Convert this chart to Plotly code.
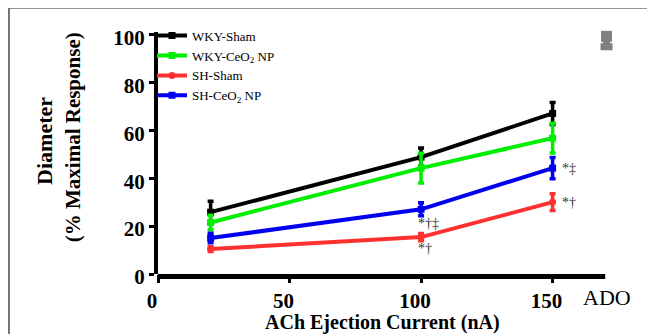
import plotly.graph_objects as go

x_current = [20, 100, 150]
series_names = ["WKY-Sham", "WKY-CeO<sub>2</sub> NP", "SH-Sham", "SH-CeO<sub>2</sub> NP"]
series_colors = ["#000000", "#00ee00", "#ff3030", "#0000ee"]
wky_sham = [25.8, 48.8, 67]
wky_sham_err = [4.6, 3.8, 4.6]
wky_ceo2 = [21.5, 44.2, 56.7]
wky_ceo2_err = [3, 6.2, 6.2]
sh_sham = [10.4, 15.4, 30]
sh_sham_err = [1, 1.5, 3.5]
sh_ceo2 = [15, 27, 44.2]
sh_ceo2_err = [2, 2.7, 4.4]
ado_x = [170.5]
ado_val = [99.2]
ado_err = [4.4]

x_ticks = [0, 50, 100, 150]
y_ticks = [0, 20, 40, 60, 80, 100]

FONT = "Liberation Serif"

fig = go.Figure()
values = [wky_sham, wky_ceo2, sh_sham, sh_ceo2]
errs = [wky_sham_err, wky_ceo2_err, sh_sham_err, sh_ceo2_err]
symbols = ["square", "square", "circle", "square"]
for name, col, v, e, s in zip(series_names, series_colors, values, errs, symbols):
    fig.add_trace(go.Scatter(
        x=x_current, y=v, name=name, mode="lines+markers",
        line=dict(color=col, width=4),
        marker=dict(color=col, size=7, symbol=s),
        error_y=dict(type="data", array=e, color=col, thickness=3.5, width=3),
        cliponaxis=False,
    ))

fig.add_trace(go.Scatter(
    x=ado_x, y=ado_val, mode="markers", showlegend=False,
    marker=dict(color="#808080", size=11, symbol="square"),
    error_y=dict(type="data", array=ado_err, color="#808080", thickness=7, width=6),
    cliponaxis=False,
))

ann_font = dict(family=FONT, size=14, color="#333333")
annotations = [
    dict(x=100, y=21, text="*†‡", xanchor="left", showarrow=False, font=ann_font, xshift=-5),
    dict(x=100, y=10.8, text="*†", xanchor="left", showarrow=False, font=ann_font, xshift=-5),
    dict(x=150, y=44.2, text="*‡", xanchor="left", showarrow=False, font=ann_font, xshift=7),
    dict(x=150, y=30, text="*†", xanchor="left", showarrow=False, font=ann_font, xshift=7),
    dict(x=170.5, y=0, yref="y", text="ADO", showarrow=False, yanchor="top", yshift=-9,
         font=dict(family=FONT, size=22, color="#000000")),
    dict(x=-0.244, y=0.55, xref="paper", yref="paper", xanchor="center", yanchor="middle",
         text="<b>Diameter</b>", textangle=-90, showarrow=False,
         font=dict(family=FONT, size=22, color="#000000")),
    dict(x=-0.1836, y=0.565, xref="paper", yref="paper", xanchor="center", yanchor="middle",
         text="<b>(% Maximal Response)</b>", textangle=-90, showarrow=False,
         font=dict(family=FONT, size=21, color="#000000")),
    dict(x=0.484, y=-0.2, xref="paper", yref="paper", xanchor="center", yanchor="middle",
         text="<b>ACh Ejection Current (nA)</b>", showarrow=False,
         font=dict(family=FONT, size=20, color="#000000")),
]

shapes = [
    # frame lines (left and top)
    dict(type="line", xref="paper", yref="paper", x0=-0.322, x1=-0.322, y0=1.1, y1=-0.4,
         line=dict(color="#707070", width=2)),
    dict(type="line", xref="paper", yref="paper", x0=-0.322, x1=1.2, y0=1.1, y1=1.1,
         line=dict(color="#707070", width=2)),
    # x axis line ending at the ADO column
    dict(type="line", xref="x", yref="paper", x0=-1.5, x1=170, y0=-0.01, y1=-0.01,
         line=dict(color="#000000", width=5)),
]

fig.update_layout(
    width=647, height=326,
    margin=dict(l=150, r=34, t=24, b=60, autoexpand=False),
    plot_bgcolor="white", paper_bgcolor="white",
    font=dict(family=FONT, color="#000000"),
    showlegend=True,
    legend=dict(x=-0.013, y=1.047, xanchor="left", yanchor="top", bgcolor="rgba(0,0,0,0)",
                font=dict(family=FONT, size=13, color="#000000"),
                itemwidth=30, tracegroupgap=0),
    annotations=annotations,
    shapes=shapes,
    xaxis=dict(range=[0, 176], tickvals=x_ticks, ticktext=[f"<b>{t}</b>" for t in x_ticks],
               showline=False, showgrid=False, zeroline=False,
               ticks="outside", ticklen=8, tickwidth=3, tickcolor="#000000", automargin=False,
               ticklabelshift=-6,
               tickfont=dict(family=FONT, size=21, color="#000000")),
    yaxis=dict(range=[0, 101], tickvals=y_ticks, ticktext=[f"<b>{t}</b>" for t in y_ticks],
               showline=True, linecolor="#000000", linewidth=4, showgrid=False, zeroline=False,
               ticks="outside", ticklen=5, tickwidth=3, tickcolor="#000000", automargin=False,
               ticklabelshift=3,
               tickfont=dict(family=FONT, size=21, color="#000000")),
)

fig.write_html("out.html")
